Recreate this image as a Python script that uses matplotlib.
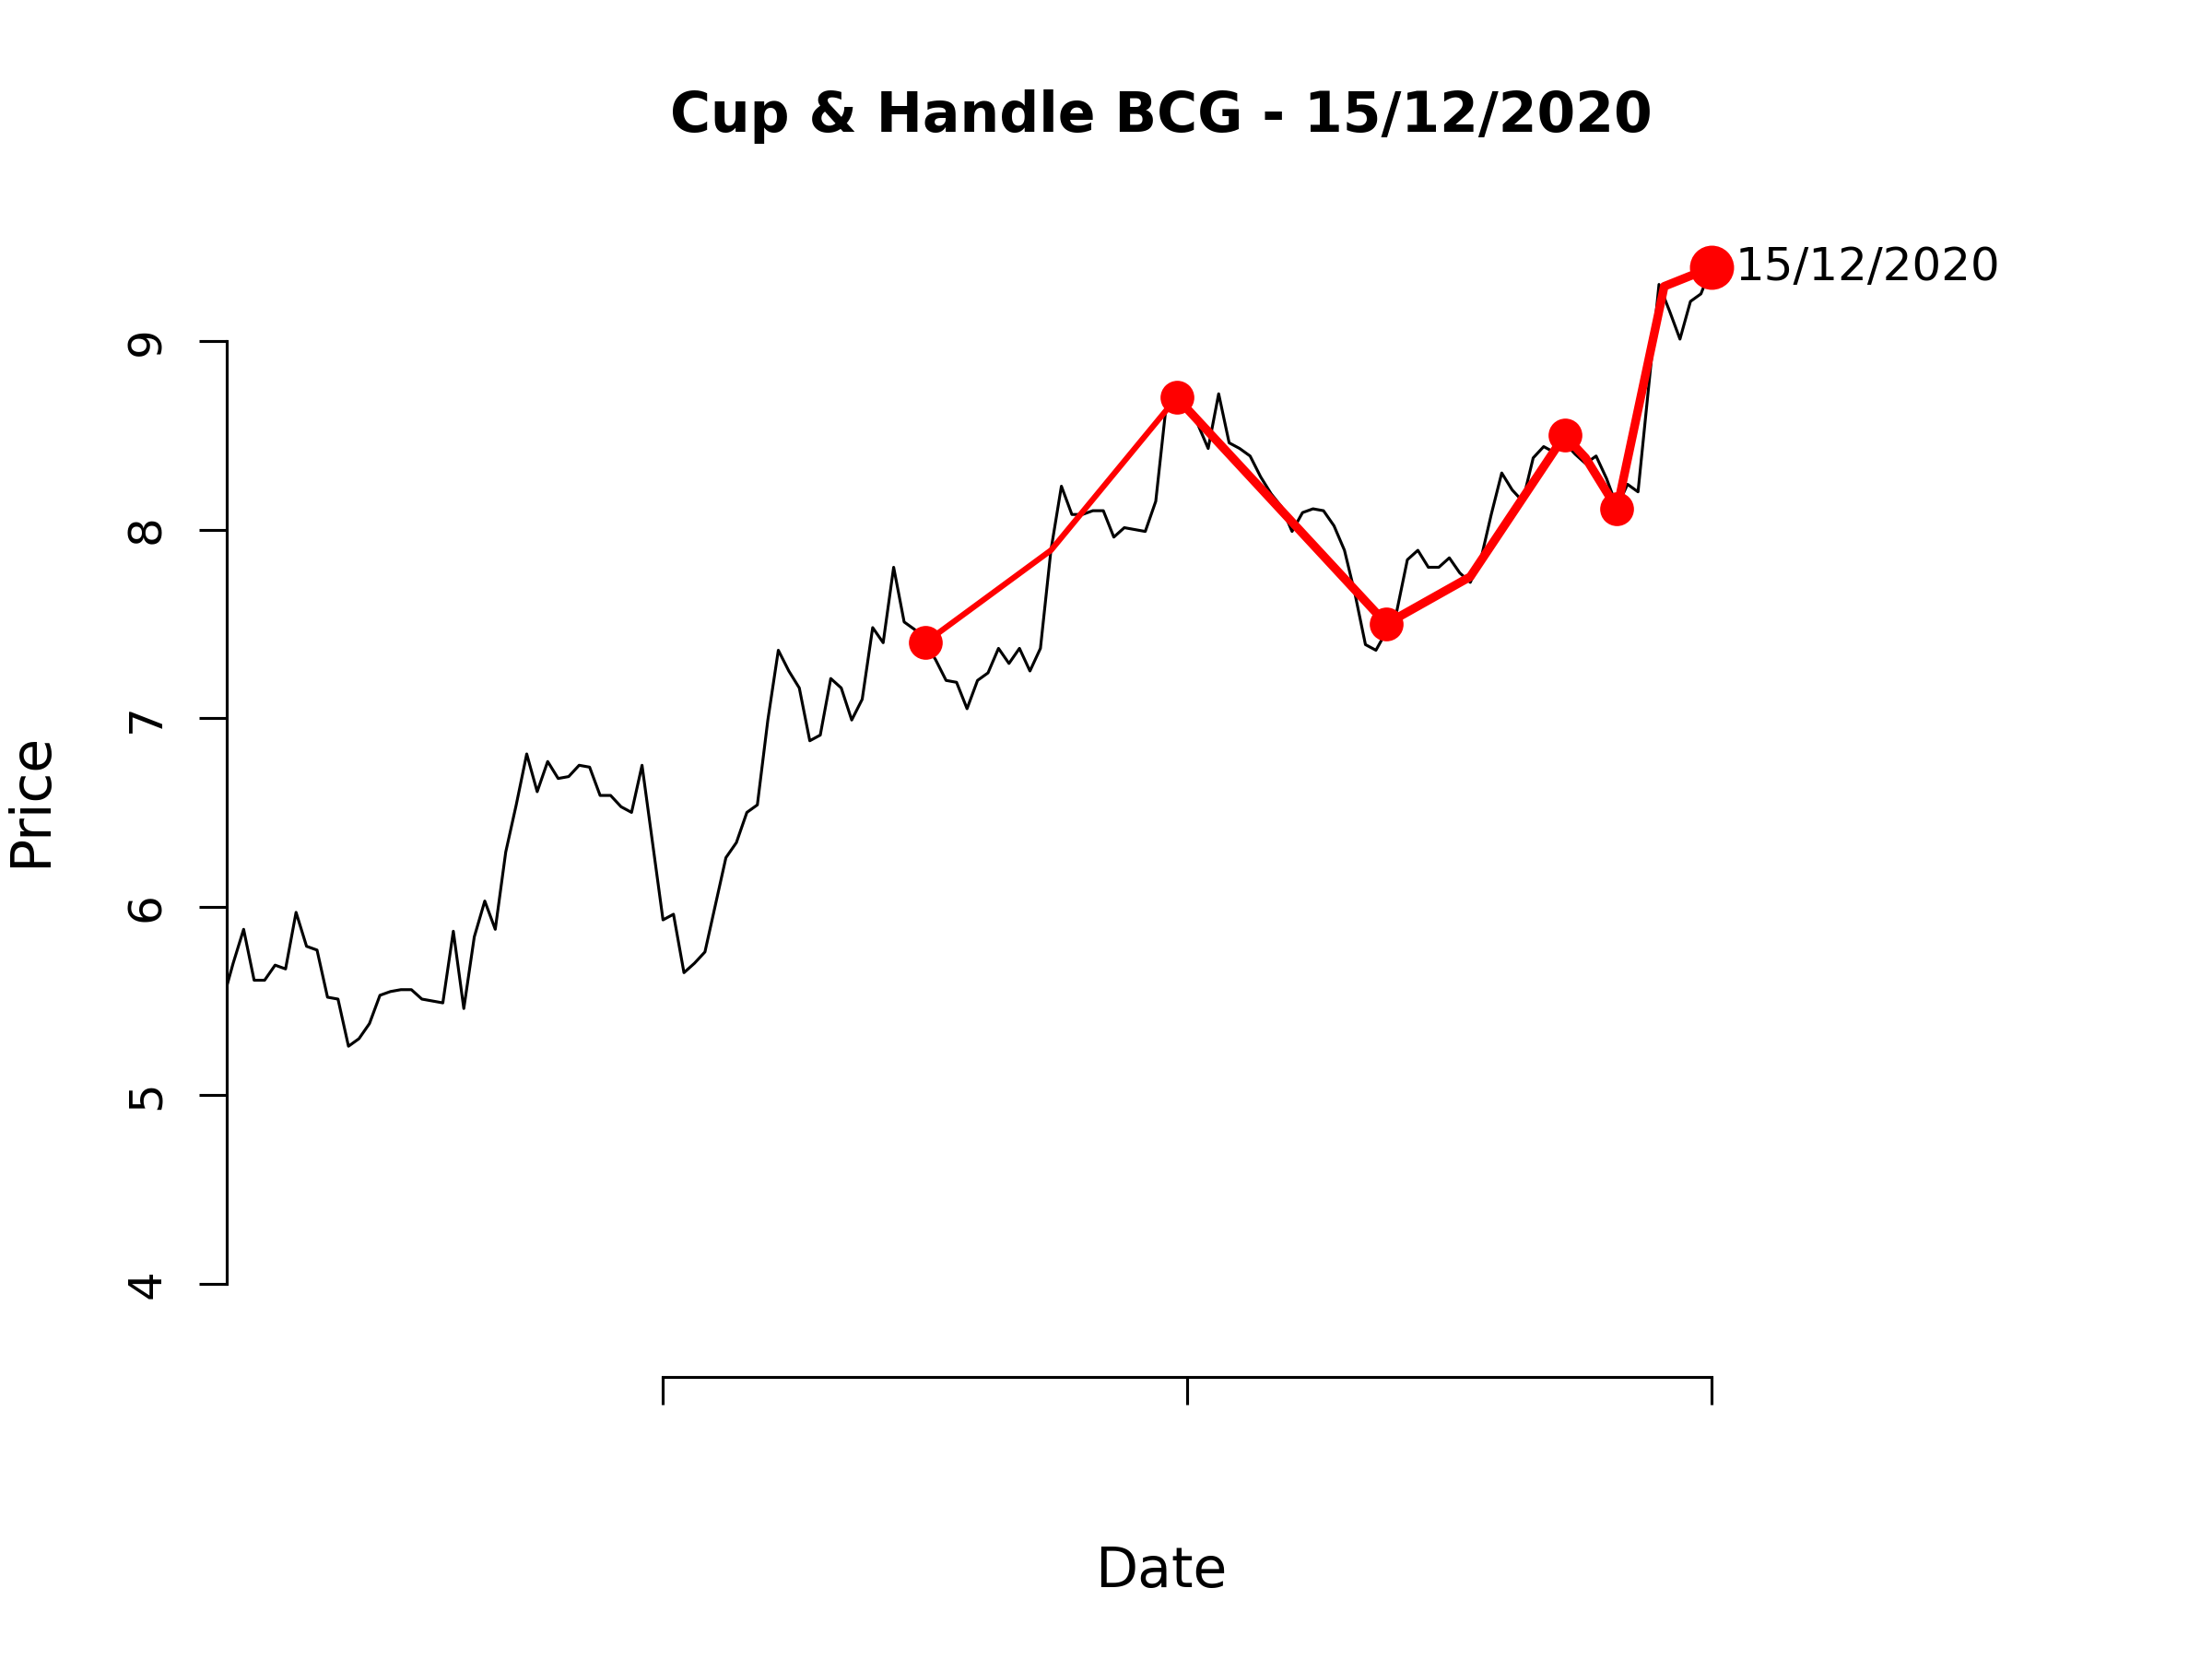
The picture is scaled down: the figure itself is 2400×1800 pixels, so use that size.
import matplotlib
matplotlib.use("Agg")
import matplotlib.pyplot as plt
import numpy as np

title_text = "Cup & Handle BCG - 15/12/2020"
x_label = "Date"
y_label = "Price"

# closing prices, one per trading day (first one lies left of the axis and is clipped)
price = [
    5.50, 5.70, 5.88, 5.61, 5.61, 5.69, 5.67, 5.97, 5.79, 5.77,
    5.52, 5.51, 5.26, 5.30, 5.38, 5.53, 5.55, 5.56, 5.56, 5.51,
    5.50, 5.49, 5.87, 5.46, 5.84, 6.03, 5.88, 6.29, 6.54, 6.81,
    6.61, 6.77, 6.68, 6.69, 6.75, 6.74, 6.59, 6.59, 6.53, 6.50,
    6.75, 6.34, 5.93, 5.96, 5.65, 5.70, 5.76, 6.01, 6.26, 6.34,
    6.50, 6.54, 6.99, 7.36, 7.25, 7.16, 6.88, 6.91, 7.21, 7.16,
    6.99, 7.10, 7.48, 7.40, 7.80, 7.51, 7.47, 7.40, 7.31, 7.20,
    7.19, 7.05, 7.20, 7.24, 7.37, 7.29, 7.37, 7.25, 7.37, 7.89,
    8.23, 8.08, 8.08, 8.10, 8.10, 7.96, 8.01, 8.00, 7.99, 8.15,
    8.66, 8.70, 8.63, 8.56, 8.43, 8.72, 8.46, 8.43, 8.39, 8.28,
    8.19, 8.12, 7.99, 8.09, 8.11, 8.10, 8.02, 7.89, 7.66, 7.39,
    7.36, 7.46, 7.57, 7.84, 7.89, 7.80, 7.80, 7.85, 7.77, 7.72,
    7.84, 8.08, 8.30, 8.21, 8.15, 8.38, 8.44, 8.41, 8.46, 8.40,
    8.35, 8.39, 8.27, 8.12, 8.24, 8.20, 8.75, 9.30, 9.16, 9.01,
    9.21, 9.25, 9.39,
]
day = np.arange(len(price))

# pattern lines (red)
lead_x = [67, 79, 91]
lead_y = [7.40, 7.89, 8.70]
pattern_x = [91, 111, 119, 128, 130, 133, 137.5, 142]
pattern_y = [8.70, 7.50, 7.75, 8.50, 8.38, 8.11, 9.29, 9.39]
point_x = [67, 91, 111, 128, 133]
point_y = [7.40, 8.70, 7.50, 8.50, 8.11]
last_x = [142]
last_y = [9.39]
last_label = "15/12/2020"

y_ticks = [4, 5, 6, 7, 8, 9]
x_ticks = [42, 92, 142]

W, H = 2400, 1800
fig = plt.figure(figsize=(8, 6), dpi=300)
ax = fig.add_axes([246 / W, 306 / H, (2274 - 246) / W, (1494 - 246) / H])

ax.plot(day, price, color="black", lw=0.75, solid_joinstyle="round")
ax.plot(lead_x, lead_y, color="#ff0000", lw=1.5, solid_joinstyle="round",
        solid_capstyle="round")
ax.plot(pattern_x, pattern_y, color="#ff0000", lw=2.25, solid_joinstyle="round",
        solid_capstyle="round")
ax.plot(point_x, point_y, "o", color="#ff0000", ms=8.8, mew=0)
ax.plot(last_x, last_y, "o", color="#ff0000", ms=11.5, mew=0)
ax.annotate(last_label, (last_x[0], last_y[0]), xytext=(6.2, 0),
            textcoords="offset points", ha="left", va="center", fontsize=12)

ax.set_xlim(0.387, 178.67)
ax.set_ylim(3.506, 9.606)

for s in ["top", "right"]:
    ax.spines[s].set_visible(False)
ax.spines["left"].set_bounds(4, 9)
ax.spines["bottom"].set_bounds(x_ticks[0], x_ticks[-1])
for s in ["left", "bottom"]:
    ax.spines[s].set_linewidth(0.75)

ax.set_yticks(y_ticks)
ax.set_yticklabels([str(v) for v in y_ticks], rotation=90, va="center")
ax.set_xticks(x_ticks)
ax.set_xticklabels([])
ax.tick_params(axis="both", length=7.2, width=0.75, labelsize=12)
ax.tick_params(axis="y", pad=7.9)

fig.text(1260 / W, 1 - 143 / H, title_text, ha="center", va="baseline",
         fontsize=14.4, fontweight="bold")
fig.text(1260 / W, 1 - 1722 / H, x_label, ha="center", va="baseline",
         fontsize=14.4)
fig.text(63 / W, 1 - 868 / H, y_label, ha="right", va="center",
         rotation=90, fontsize=14.4)

fig.savefig("out.png", dpi=300)
